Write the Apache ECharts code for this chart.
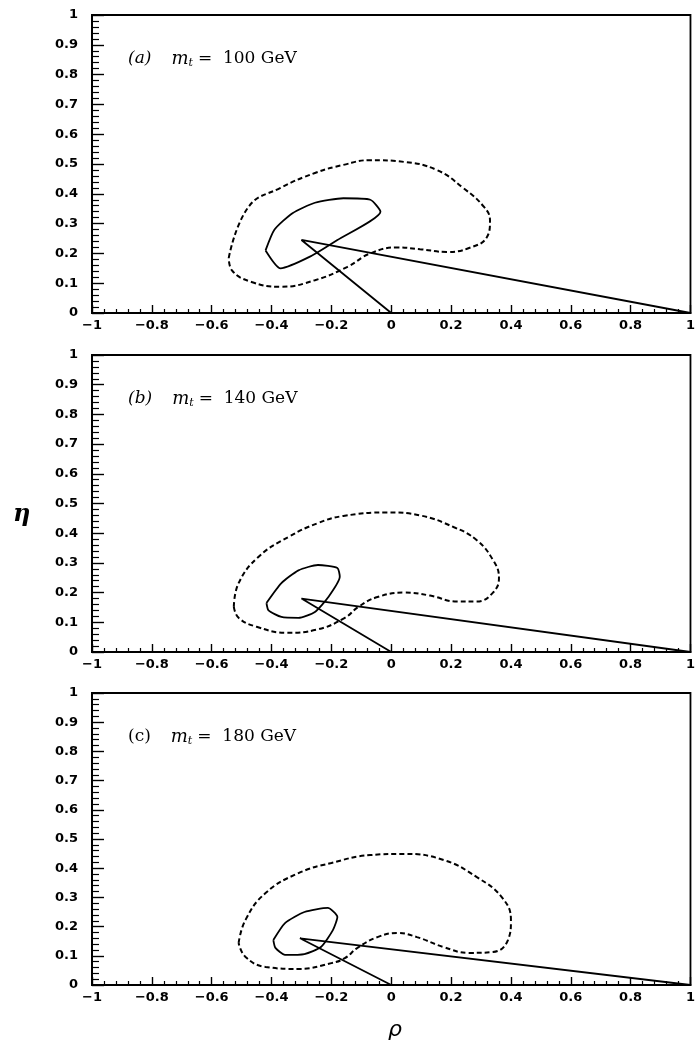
<!DOCTYPE html>
<html lang="en">
  <head>
    <meta charset="UTF-8" />
    <title>rho-eta fits</title>
    <script src="https://cdn.jsdelivr.net/npm/echarts@6.0.0/dist/echarts.min.js"></script>
    <style>
      html, body { margin: 0; padding: 0; background: #fff; }
    </style>
  </head>
  <body>
    <div id="main" style="width: 698px; height: 1045px"></div>
    <script type="text/javascript">
      // panel labels
      const panelTags = ["(a)", "(b)", "(c)"];
      const topMasses = ["100", "140", "180"];

      // apex of the unitarity triangle (rho, eta) per panel
      const apexA = [-0.3, 0.245];
      const apexB = [-0.3, 0.18];
      const apexC = [-0.305, 0.16];

      // solid (inner) contours
      const innerA = [
        [-0.42, 0.21], [-0.39, 0.28], [-0.33, 0.335], [-0.255, 0.37], [-0.16, 0.385],
        [-0.07, 0.38], [-0.036, 0.34], [-0.18, 0.245], [-0.27, 0.19], [-0.37, 0.15], [-0.42, 0.21]
      ];
      const innerB = [
        [-0.417, 0.165], [-0.367, 0.232], [-0.31, 0.275], [-0.245, 0.293], [-0.18, 0.283],
        [-0.172, 0.253], [-0.21, 0.185], [-0.255, 0.135], [-0.31, 0.115], [-0.367, 0.118],
        [-0.41, 0.14], [-0.417, 0.165]
      ];
      const innerC = [
        [-0.394, 0.154], [-0.355, 0.212], [-0.29, 0.25], [-0.212, 0.264], [-0.18, 0.233],
        [-0.195, 0.188], [-0.235, 0.13], [-0.29, 0.106], [-0.355, 0.103], [-0.387, 0.127],
        [-0.394, 0.154]
      ];

      // dashed (outer) contours
      const outerA = [
        [-0.543, 0.185], [-0.477, 0.356], [-0.37, 0.42], [-0.255, 0.47], [-0.16, 0.497],
        [-0.07, 0.513], [0.043, 0.507], [0.152, 0.48], [0.24, 0.42], [0.31, 0.356],
        [0.33, 0.31], [0.32, 0.255], [0.26, 0.218], [0.185, 0.205], [0.096, 0.214],
        [0.02, 0.22], [-0.07, 0.2], [-0.146, 0.155], [-0.255, 0.11], [-0.37, 0.088],
        [-0.467, 0.104], [-0.533, 0.144], [-0.543, 0.185]
      ];
      const outerB = [
        [-0.526, 0.152], [-0.51, 0.232], [-0.444, 0.32], [-0.344, 0.387], [-0.245, 0.434],
        [-0.16, 0.458], [-0.013, 0.47], [0.096, 0.46], [0.21, 0.42], [0.285, 0.377],
        [0.34, 0.31], [0.36, 0.25], [0.34, 0.2], [0.285, 0.17], [0.22, 0.17],
        [0.13, 0.19], [0.043, 0.2], [-0.046, 0.185], [-0.11, 0.152], [-0.155, 0.115],
        [-0.25, 0.075], [-0.35, 0.065], [-0.45, 0.085], [-0.51, 0.115], [-0.526, 0.152]
      ];
      const outerC = [
        [-0.51, 0.144], [-0.487, 0.223], [-0.42, 0.315], [-0.31, 0.383], [-0.2, 0.418],
        [-0.07, 0.445], [0.043, 0.449], [0.175, 0.428], [0.285, 0.37], [0.37, 0.3],
        [0.4, 0.222], [0.39, 0.154], [0.34, 0.113], [0.26, 0.11], [0.175, 0.13],
        [0.086, 0.164], [0.02, 0.178], [-0.046, 0.164], [-0.113, 0.127], [-0.155, 0.092],
        [-0.2, 0.075], [-0.31, 0.055], [-0.42, 0.062], [-0.487, 0.096], [-0.51, 0.144]
      ];

      const apexes = [apexA, apexB, apexC];
      const inners = [innerA, innerB, innerC];
      const outers = [outerA, outerB, outerC];

      // grid placement (px) for the three stacked panels
      const gridTops = [15, 355, 693];
      const gridHeights = [298, 297, 292];

      const labelFont = { fontFamily: "DejaVu Sans", fontWeight: "bold", fontSize: 13, color: "#000" };
      const minus = (v) => String(Math.round(v * 10) / 10).replace("-", "\u2212");

      const grids = [], xAxes = [], yAxes = [], series = [], titles = [];
      for (let i = 0; i < 3; i++) {
        grids.push({
          left: 92, right: 2, top: gridTops[i], height: gridHeights[i],
          show: true, borderColor: "#000", borderWidth: 1.8, backgroundColor: "transparent"
        });
        xAxes.push({
          type: "value", gridIndex: i, min: -1, max: 1, interval: 0.2,
          axisLine: { onZero: false, lineStyle: { color: "#000", width: 2 } },
          axisTick: { inside: true, length: 8, lineStyle: { color: "#000", width: 1.4 } },
          minorTick: { show: true, splitNumber: 5, length: 4, lineStyle: { color: "#000", width: 1.2 } },
          splitLine: { show: false },
          axisLabel: Object.assign({ margin: 6, formatter: minus }, labelFont)
        });
        yAxes.push({
          type: "value", gridIndex: i, min: 0, max: 1, interval: 0.1,
          axisLine: { onZero: false, lineStyle: { color: "#000", width: 2 } },
          axisTick: { inside: true, length: 12, lineStyle: { color: "#000", width: 1.4 } },
          minorTick: { show: true, splitNumber: 5, length: 7, lineStyle: { color: "#000", width: 1.2 } },
          splitLine: { show: false },
          axisLabel: Object.assign({ margin: 14, formatter: minus }, labelFont)
        });
        series.push({
          type: "line", xAxisIndex: i, yAxisIndex: i, data: outers[i],
          showSymbol: false, smooth: 0.45, silent: true,
          lineStyle: { color: "#000", width: 2, type: [5, 3] }
        });
        series.push({
          type: "line", xAxisIndex: i, yAxisIndex: i, data: inners[i],
          showSymbol: false, smooth: 0.2, silent: true,
          lineStyle: { color: "#000", width: 1.8 }
        });
        series.push({
          type: "line", xAxisIndex: i, yAxisIndex: i, data: [[0, 0], apexes[i], [1, 0]],
          showSymbol: false, silent: true,
          lineStyle: { color: "#000", width: 1.8 }
        });
        const tagStyle = i < 2 ? "italic" : "normal";
        titles.push({
          left: 128, top: gridTops[i] + 34, padding: 0,
          text: "{t|" + panelTags[i] + "}    {m|m}{s|t} {n|=  " + topMasses[i] + " GeV}",
          textStyle: {
            fontWeight: "normal",
            rich: {
              t: { fontFamily: "DejaVu Serif", fontStyle: tagStyle, fontWeight: "normal", fontSize: 17, color: "#000" },
              n: { fontFamily: "DejaVu Serif", fontWeight: "normal", fontSize: 17, color: "#000" },
              m: { fontFamily: "DejaVu Serif", fontStyle: "italic", fontWeight: "normal", fontSize: 18, color: "#000" },
              s: { fontFamily: "DejaVu Serif", fontStyle: "italic", fontWeight: "normal", fontSize: 11, color: "#000", padding: [9, 0, 0, 0] }
            }
          }
        });
      }

      titles.push({
        left: 8, top: 498, text: "\u03B7",
        textStyle: { fontFamily: "DejaVu Serif", fontStyle: "italic", fontWeight: "bold", fontSize: 24, color: "#000" }
      });
      titles.push({
        left: 383, top: 1014, text: "\u03C1",
        textStyle: { fontFamily: "DejaVu Sans", fontStyle: "italic", fontWeight: "normal", fontSize: 22, color: "#000" }
      });

      const myChart = echarts.init(document.getElementById("main"));
      myChart.setOption({
        animation: false,
        backgroundColor: "#fff",
        title: titles,
        grid: grids,
        xAxis: xAxes,
        yAxis: yAxes,
        series: series
      });
    </script>
  </body>
</html>
